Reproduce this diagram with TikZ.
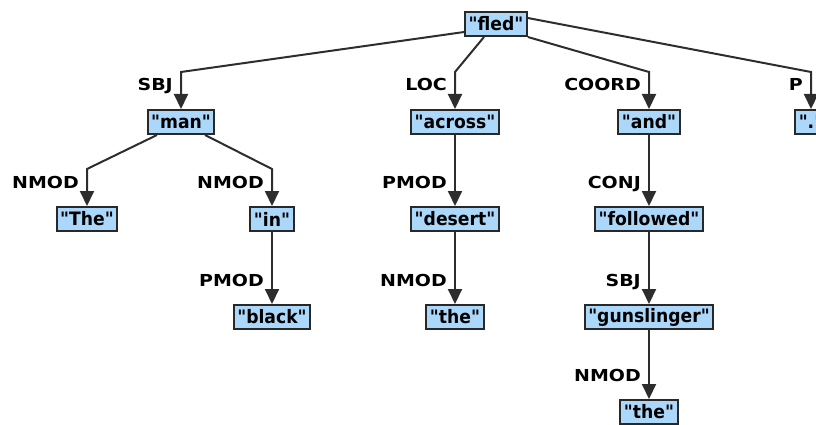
\documentclass[tikz,border=0pt]{standalone}
\usepackage{fontspec}
\setmainfont{DejaVu Sans}[FakeStretch=1.15]
\newfontfamily\wordfont{DejaVu Sans Bold}[FakeStretch=0.93]
\usetikzlibrary{arrows.meta,calc}
\definecolor{boxfill}{RGB}{170,215,250}
\definecolor{boxline}{RGB}{40,40,40}
\definecolor{edgecol}{RGB}{45,45,45}
% a word in straight double quotes
\newcommand\qw[1]{\symbol{34}#1\symbol{34}}
\begin{document}
\begin{tikzpicture}[x=1pt,y=-1pt,
  word/.style={draw=boxline,fill=boxfill,line width=2pt,inner xsep=3.5pt,inner ysep=0pt,
    minimum height=24pt,font=\wordfont\fontsize{18.5}{18.5}\selectfont},
  dep/.style={draw=edgecol,line width=2pt,-{Triangle[width=14pt,length=15pt]}},
  rel/.style={anchor=base east,inner sep=0pt,font=\fontsize{16.5}{16.5}\selectfont\bfseries}]
\useasboundingbox (0,0) rectangle (816,425);
\clip (0,0) rectangle (816,425);

% words of the sentence
\node[word] (fled)   at (496,24)  {\qw{fled}};
\node[word] (man)    at (181,122) {\qw{man}};
\node[word] (across) at (455,122) {\qw{across}};
\node[word] (and)    at (649,122) {\qw{and}};
\node[word] (dot)    at (811,122) {\qw{.}};
\node[word] (The)    at (87,219)  {\qw{The}};
\node[word] (in)     at (272,219) {\qw{in}};
\node[word] (desert) at (455,219) {\qw{desert}};
\node[word] (followed) at (649,219) {\qw{followed}};
\node[word] (black)  at (272,317) {\qw{black}};
\node[word] (the)    at (455,317) {\qw{the}};
\node[word] (gun)    at (649,317) {\qw{gunslinger}};
\node[word] (the2)   at (649,412) {\qw{the}};

% dependencies: a slanted run from the head, then straight down into the dependent
\draw[dep] ([yshift=5pt]fled.south west) -- ($(man.north)+(0,-37)$) -- (man.north);
\draw[dep] ([xshift=-12pt]fled.south) -- ($(across.north)+(0,-37)$) -- (across.north);
\draw[dep] (fled.south east) -- ($(and.north)+(0,-37)$) -- (and.north);
\draw[dep] ([yshift=6pt]fled.east) -- ($(dot.north)+(0,-37)$) -- (dot.north);
\draw[dep] ([xshift=-24pt]man.south) -- ($(The.north)+(0,-37)$) -- (The.north);
\draw[dep] ([xshift=24pt]man.south) -- ($(in.north)+(0,-37)$) -- (in.north);
\draw[dep] (in.south) -- (black.north);
\draw[dep] (across.south) -- (desert.north);
\draw[dep] (desert.south) -- (the.north);
\draw[dep] (and.south) -- (followed.north);
\draw[dep] (followed.south) -- (gun.north);
\draw[dep] (gun.south) -- (the2.north);

% relation labels
\node[rel] (lsbj)   at ($(man.north)+(-8,-18)$)    {SBJ};
\node[rel] (lloc)   at ($(across.north)+(-8,-18)$) {LOC};
\node[rel] (lcoord) at ($(and.north)+(-8,-18)$)    {COORD};
\node[rel] (lp)     at ($(dot.north)+(-8,-18)$)    {P};
\node[rel] (lnm1)   at ($(The.north)+(-8,-18)$)    {NMOD};
\node[rel] (lnm2)   at ($(in.north)+(-8,-18)$)     {NMOD};
\node[rel] (lpm1)   at ($(black.north)+(-8,-18)$)  {PMOD};
\node[rel] (lpm2)   at ($(desert.north)+(-8,-18)$) {PMOD};
\node[rel] (lnm3)   at ($(the.north)+(-8,-18)$)    {NMOD};
\node[rel] (lconj)  at ($(followed.north)+(-8,-18)$) {CONJ};
\node[rel] (lsbj2)  at ($(gun.north)+(-8,-18)$)    {SBJ};
\node[rel] (lnm4)   at ($(the2.north)+(-8,-18)$)   {NMOD};
\end{tikzpicture}
\end{document}
